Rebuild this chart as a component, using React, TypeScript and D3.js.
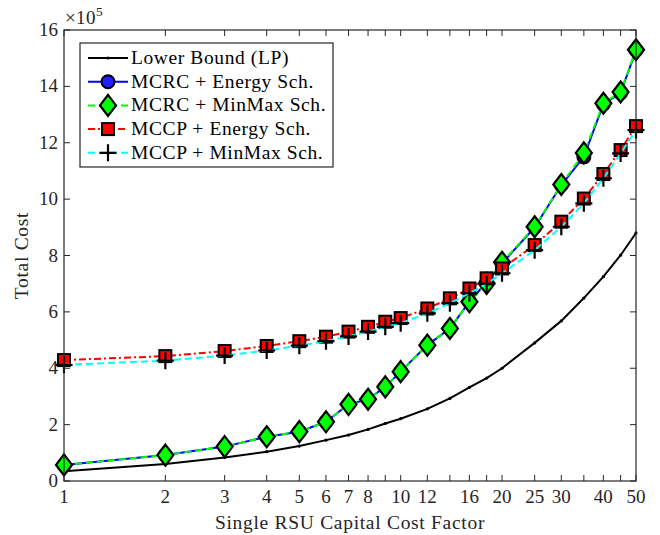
import React from "react";
import * as d3 from "d3";

// x values (capital cost factor)
const factors = [1, 2, 3, 4, 5, 6, 7, 8, 9, 10, 12, 14, 16, 18, 20, 25, 30, 35, 40, 45, 50];
// total cost, in units of 1e5
const lowerBound = [0.35, 0.6, 0.83, 1.04, 1.24, 1.45, 1.63, 1.83, 2.04, 2.21, 2.56, 2.93, 3.32, 3.65, 4.0, 4.9, 5.68, 6.49, 7.25, 8.01, 8.8];
const mcrcEnergy = [0.57, 0.92, 1.22, 1.57, 1.75, 2.1, 2.72, 2.9, 3.34, 3.88, 4.82, 5.41, 6.36, 7.05, 7.72, 9.0, 10.5, 11.5, 13.37, 13.77, 15.28];
const mcrcMinMax = [0.57, 0.92, 1.22, 1.57, 1.75, 2.1, 2.72, 2.9, 3.34, 3.88, 4.82, 5.41, 6.36, 7.01, 7.76, 9.02, 10.52, 11.64, 13.4, 13.8, 15.3];
const mccpEnergy = [4.29, 4.43, 4.61, 4.79, 4.96, 5.12, 5.3, 5.47, 5.65, 5.78, 6.12, 6.48, 6.83, 7.19, 7.54, 8.37, 9.2, 10.02, 10.89, 11.74, 12.59];
const mccpMinMax = [4.12, 4.27, 4.45, 4.63, 4.8, 4.96, 5.13, 5.3, 5.47, 5.6, 5.95, 6.31, 6.66, 7.0, 7.37, 8.19, 9.02, 9.85, 10.74, 11.62, 12.45];

const xTicks = [1, 2, 3, 4, 5, 6, 7, 8, 9, 10, 12, 14, 16, 18, 20, 25, 30, 35, 40, 45, 50];
const xTickLabels = [1, 2, 3, 4, 5, 6, 7, 8, 10, 12, 16, 20, 25, 30, 40, 50];
const yTicks = [0, 2, 4, 6, 8, 10, 12, 14, 16];

const legendNames = [
  "Lower Bound (LP)",
  "MCRC + Energy Sch.",
  "MCRC + MinMax Sch.",
  "MCCP + Energy Sch.",
  "MCCP + MinMax Sch.",
];

const W = 660, H = 535;
const margin = { left: 64, right: 24, top: 30, bottom: 54 };
const font = "'Liberation Serif', 'Times New Roman', serif";
const axisColor = "#262626";

const x = d3.scaleLog().domain([1, 50]).range([margin.left, W - margin.right]);
const y = d3.scaleLinear().domain([0, 16]).range([H - margin.bottom, margin.top]);

const lineGen = (vals: number[]) =>
  d3.line<number>()
    .x((_, i) => x(factors[i]))
    .y((d) => y(d))(vals) as string;

const Circle = ({ cx, cy }: { cx: number; cy: number }) => (
  <circle cx={cx} cy={cy} r={6.5} fill="#1f1fff" stroke="#000" strokeWidth={2} />
);
const Diamond = ({ cx, cy }: { cx: number; cy: number }) => (
  <path d={`M${cx},${cy - 10.5}L${cx + 8},${cy}L${cx},${cy + 10.5}L${cx - 8},${cy}Z`}
    fill="#00ff00" stroke="#000" strokeWidth={2.2} />
);
const Square = ({ cx, cy }: { cx: number; cy: number }) => (
  <rect x={cx - 6} y={cy - 6} width={12} height={12} fill="#ff0000" stroke="#000" strokeWidth={2} />
);
const Plus = ({ cx, cy }: { cx: number; cy: number }) => (
  <path d={`M${cx - 8.5},${cy}H${cx + 8.5}M${cx},${cy - 8.5}V${cy + 8.5}`} stroke="#000" strokeWidth={2.2} />
);
const Dot = ({ cx, cy }: { cx: number; cy: number }) => (
  <circle cx={cx} cy={cy} r={1.6} fill="#000" />
);

const series = [
  { vals: lowerBound, color: "#000", dash: "none", Marker: Dot },
  { vals: mcrcEnergy, color: "#0000ff", dash: "none", Marker: Circle },
  { vals: mcrcMinMax, color: "#00ff00", dash: "7,4", Marker: Diamond },
  { vals: mccpEnergy, color: "#ff0000", dash: "7,3,2,3", Marker: Square },
  { vals: mccpMinMax, color: "#00ffff", dash: "7,4", Marker: Plus },
];

export default function App() {
  const [x0, x1] = x.range();
  const [y0, y1] = y.range();
  const legX = 80, legY = 43, legW = 253, legH = 124;
  return (
    <svg width={W} height={H} style={{ position: "absolute", left: 0, top: 0, background: "#fff" }}
      fontFamily={font}>
      {/* series */}
      {series.map((s, si) => (
        <g key={si}>
          <path d={lineGen(s.vals)} fill="none" stroke={s.color} strokeWidth={2}
            strokeDasharray={s.dash} />
          {s.vals.map((v, i) => <s.Marker key={i} cx={x(factors[i])} cy={y(v)} />)}
        </g>
      ))}

      {/* axes box */}
      <rect x={x0} y={y1} width={x1 - x0} height={y0 - y1} fill="none" stroke={axisColor} strokeWidth={1.2} />
      {xTicks.map((t) => (
        <g key={t} stroke={axisColor} strokeWidth={1}>
          <line x1={x(t)} x2={x(t)} y1={y0} y2={y0 - 6} />
          <line x1={x(t)} x2={x(t)} y1={y1} y2={y1 + 6} />
        </g>
      ))}
      {yTicks.map((t) => (
        <g key={t} stroke={axisColor} strokeWidth={1}>
          <line x1={x0} x2={x0 + 6} y1={y(t)} y2={y(t)} />
          <line x1={x1} x2={x1 - 6} y1={y(t)} y2={y(t)} />
        </g>
      ))}
      {xTickLabels.map((t) => (
        <text key={t} x={x(t)} y={y0 + 22} textAnchor="middle" fontSize={19} fill={axisColor}>{t}</text>
      ))}
      {yTicks.map((t) => (
        <text key={t} x={x0 - 6} y={y(t) + 6} textAnchor="end" fontSize={19} fill={axisColor}>{t}</text>
      ))}
      <text x={x0 + 1} y={y1 - 6} fontSize={19} letterSpacing={0.4} fill={axisColor}>
        ×10<tspan dy={-8} fontSize={13.5}>5</tspan>
      </text>
      <text x={(x0 + x1) / 2} y={H - 6} textAnchor="middle" fontSize={19.5} letterSpacing={0.7} fill={axisColor}>
        Single RSU Capital Cost Factor
      </text>
      <text transform={`translate(28,${(y0 + y1) / 2}) rotate(-90)`} textAnchor="middle" fontSize={19.5}
        letterSpacing={0.7} fill={axisColor}>
        Total Cost
      </text>

      {/* legend */}
      <rect x={legX} y={legY} width={legW} height={legH} fill="#fff" stroke={axisColor} strokeWidth={1.2} />
      {series.map((s, i) => {
        const cy = legY + 15 + i * 23.7;
        const lx0 = legX + 8, lx1 = legX + 48;
        return (
          <g key={i}>
            <line x1={lx0} x2={lx1} y1={cy} y2={cy} stroke={s.color} strokeWidth={2} strokeDasharray={s.dash} />
            <s.Marker cx={(lx0 + lx1) / 2} cy={cy} />
            <text x={legX + 51} y={cy + 6} fontSize={19.5} letterSpacing={0.6} fill="#000">{legendNames[i]}</text>
          </g>
        );
      })}
    </svg>
  );
}
